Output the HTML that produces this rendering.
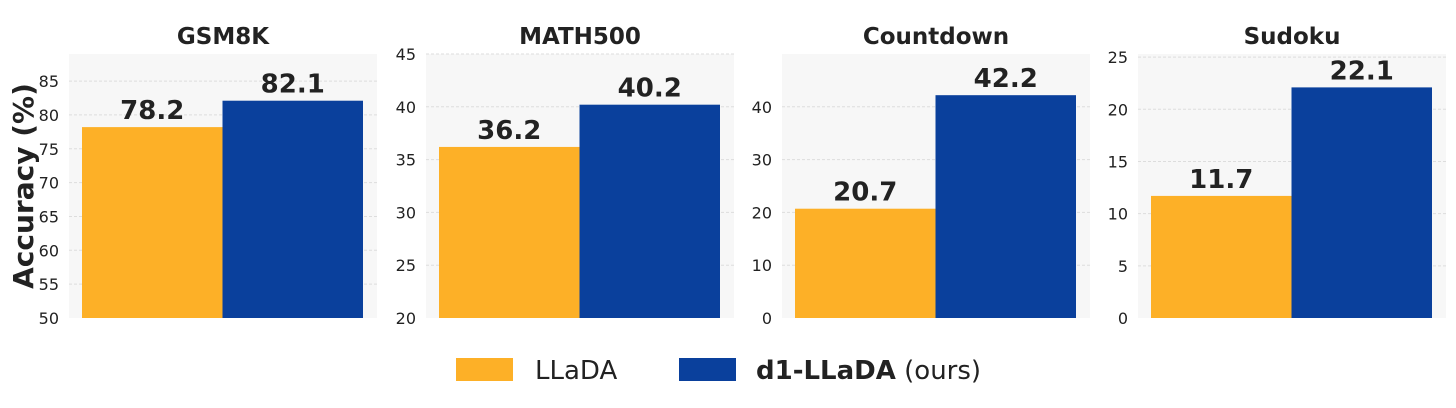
<!DOCTYPE html>
<html><head><meta charset="utf-8"><style>
body{margin:0;background:#fff;}
svg text{font-family:"DejaVu Sans","Liberation Sans",sans-serif;fill:#222;}
</style></head><body>
<svg id="chart" width="1456" height="403" xmlns="http://www.w3.org/2000/svg"></svg>
<script>
const categories = ["GSM8K","MATH500","Countdown","Sudoku"];
const lladaValues = [78.2,36.2,20.7,11.7];
const d1Values = [82.1,40.2,42.2,22.1];
const yMins = [50,20,0,0];
const yMaxs = [89,45,50,25.3];
const yTicks = [[50,55,60,65,70,75,80,85],[20,25,30,35,40,45],[0,10,20,30,40],[0,5,10,15,20,25]];
const seriesNames = ["LLaDA","d1-LLaDA"];

const NS="http://www.w3.org/2000/svg";
const svgRoot=document.getElementById('chart');
function mk(tag,attrs,parent){const e=document.createElementNS(NS,tag);for(const k in attrs)e.setAttribute(k,attrs[k]);(parent||svgRoot).appendChild(e);return e;}
const panelX=[69,426,782,1138], panelW=308, plotTop=54, plotBottom=318;
const barColors=["#FDB027","#0A409C"];
categories.forEach((cat,i)=>{
  const g=mk('g',{});
  
  
  const x0=panelX[i];
  const yScale=v=>plotBottom-(v-yMins[i])/(yMaxs[i]-yMins[i])*(plotBottom-plotTop);
  const bg=mk('rect',{x:x0,y:plotTop,width:panelW,height:plotBottom-plotTop,fill:'#f7f7f7'},g);
  
  
  yTicks[i].forEach(t=>{
    const ty=yScale(t);
    if(t!==yMins[i]){const l=mk('line',{x1:x0,x2:x0+panelW,y1:ty,y2:ty,stroke:'#ddd','stroke-width':1,'stroke-dasharray':'3,2'},g);
      
      }
    const tl=mk('text',{x:x0-10,y:ty+6,'text-anchor':'end','font-size':16},g);
    
    
    tl.textContent=t;
  });
  const title=mk('text',{x:x0+panelW/2,y:44,'text-anchor':'middle','font-size':23,'font-weight':'bold'},g);
  
  
  title.textContent=cat;
  const bw=140.5, bx0=x0+13;
  [lladaValues[i],d1Values[i]].forEach((v,s)=>{
    const bx=bx0+s*bw, by=yScale(v);
    const r=mk('rect',{x:bx,y:by,width:bw,height:plotBottom-by,fill:barColors[s]},g);
    
    
    const vl=mk('text',{x:bx+bw/2,y:by-8,'text-anchor':'middle','font-size':26,'font-weight':'bold'},g);
    
    
    vl.textContent=v.toFixed(1);
  });
});
const yl=mk('text',{x:0,y:0,transform:'translate(33,186) rotate(-90)','text-anchor':'middle','font-size':28,'font-weight':'bold'});


yl.textContent='Accuracy (%)';
const lg=mk('g',{});


const r1=mk('rect',{x:456,y:358,width:57,height:23,fill:barColors[0]},lg);


const t1=mk('text',{x:535,y:379,'font-size':26},lg);


t1.textContent='LLaDA';
const r2=mk('rect',{x:679,y:358,width:57,height:23,fill:barColors[1]},lg);


const t2=mk('text',{x:756,y:379,'font-size':26},lg);


const ts1=mk('tspan',{'font-weight':'bold'},t2);
ts1.textContent='d1-LLaDA';
const ts2=mk('tspan',{},t2);
ts2.textContent=' (ours)';
</script>
</body></html>
